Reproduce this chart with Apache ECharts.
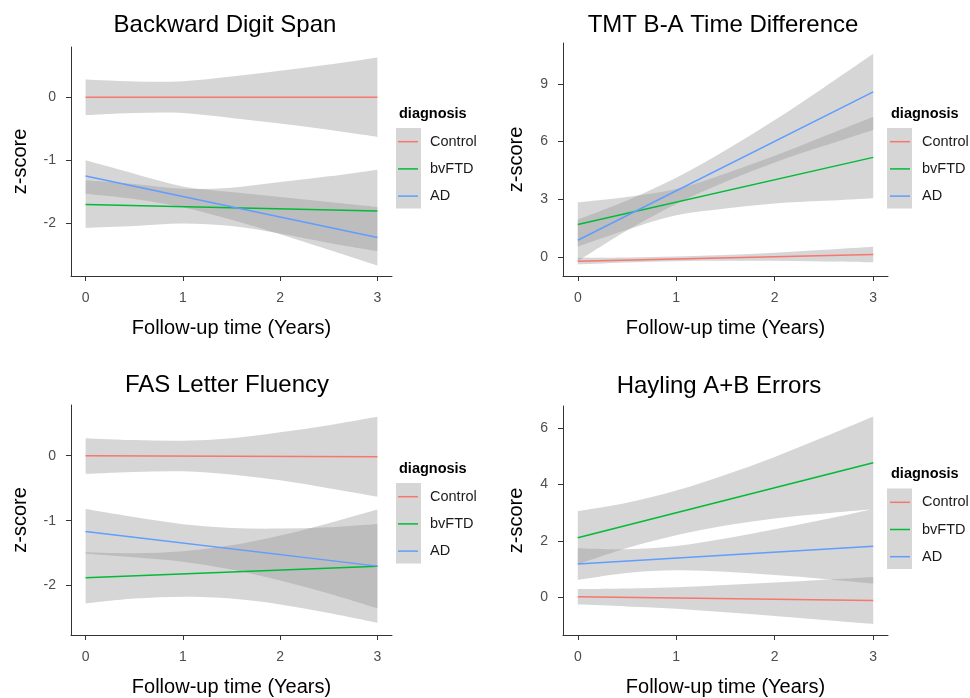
<!DOCTYPE html>
<html><head><meta charset="utf-8">
<script src="https://cdn.jsdelivr.net/npm/echarts@6/dist/echarts.min.js"></script>
<style>html,body{margin:0;padding:0;background:#fff}#c{width:970px;height:698px}</style>
</head><body><div id="c"></div>
<script>
// ---------- data ----------
const years = [0, 0.5, 1, 1.5, 2, 2.5, 3];
const lineYears = [0, 3];
const groups = ['Control', 'bvFTD', 'AD'];
const panelTitles = ['Backward Digit Span', 'TMT B-A Time Difference', 'FAS Letter Fluency', 'Hayling A+B Errors'];
const xTicks = [0, 1, 2, 3];
const bdsTicks = [-2, -1, 0];
const tmtTicks = [0, 3, 6, 9];
const fasTicks = [-2, -1, 0];
const hayTicks = [0, 2, 4, 6];

// Backward Digit Span
const bdsLineControl = [0.00, 0.00];
const bdsLineBvftd = [-1.707, -1.81];
const bdsLineAd = [-1.255, -2.234];
const bdsUpperControl = [0.28, 0.25, 0.255, 0.33, 0.42, 0.52, 0.633];
const bdsLowerControl = [-0.285, -0.25, -0.25, -0.33, -0.42, -0.52, -0.633];
const bdsUpperBvftd = [-1.32, -1.38, -1.456, -1.44, -1.35, -1.26, -1.153];
const bdsLowerBvftd = [-2.08, -2.05, -2.01, -2.05, -2.17, -2.32, -2.45];
const bdsUpperAd = [-1.005, -1.217, -1.42, -1.51, -1.59, -1.67, -1.75];
const bdsLowerAd = [-1.536, -1.62, -1.75, -1.95, -2.18, -2.43, -2.68];

// TMT B-A Time Difference
const tmtLineControl = [-0.22, 0.13];
const tmtLineBvftd = [1.69, 5.18];
const tmtLineAd = [0.87, 8.59];
const tmtUpperControl = [-0.05, -0.03, 0.02, 0.10, 0.22, 0.37, 0.53];
const tmtLowerControl = [-0.39, -0.29, -0.22, -0.20, -0.20, -0.23, -0.27];
const tmtUpperBvftd = [2.84, 3.12, 3.53, 4.34, 5.26, 6.28, 7.30];
const tmtLowerBvftd = [0.54, 1.42, 2.17, 2.52, 2.78, 2.92, 3.06];
const tmtUpperAd = [1.95, 2.94, 4.12, 5.55, 7.12, 8.82, 10.57];
const tmtLowerAd = [-0.21, 1.38, 2.76, 3.91, 4.92, 5.78, 6.61];

// FAS Letter Fluency
const fasLineControl = [0.00, -0.015];
const fasLineBvftd = [-1.88, -1.70];
const fasLineAd = [-1.166, -1.70];
const fasUpperControl = [0.27, 0.24, 0.23, 0.27, 0.36, 0.47, 0.60];
const fasLowerControl = [-0.28, -0.25, -0.24, -0.29, -0.38, -0.50, -0.63];
const fasUpperBvftd = [-1.485, -1.50, -1.47, -1.38, -1.23, -1.04, -0.83];
const fasLowerBvftd = [-2.275, -2.20, -2.17, -2.20, -2.29, -2.42, -2.57];
const fasUpperAd = [-0.822, -0.945, -1.054, -1.113, -1.122, -1.101, -1.05];
const fasLowerAd = [-1.51, -1.565, -1.634, -1.753, -1.922, -2.121, -2.35];

// Hayling A+B Errors
const hayLineControl = [0.02, -0.11];
const hayLineBvftd = [2.11, 4.76];
const hayLineAd = [1.18, 1.81];
const hayUpperControl = [0.295, 0.318, 0.357, 0.435, 0.523, 0.622, 0.72];
const hayLowerControl = [-0.255, -0.322, -0.403, -0.525, -0.657, -0.798, -0.94];
const hayUpperBvftd = [3.05, 3.35, 3.78, 4.34, 4.97, 5.67, 6.40];
const hayLowerBvftd = [1.17, 1.75, 2.20, 2.54, 2.79, 2.97, 3.12];
const hayUpperAd = [1.74, 1.705, 1.82, 2.085, 2.41, 2.755, 3.13];
const hayLowerAd = [0.62, 0.865, 0.96, 0.905, 0.79, 0.655, 0.49];

// ---------- layout / style ----------
const FONT = 'Liberation Sans, Arial, sans-serif';
const colors = ['#F8766D', '#00BA38', '#619CFF'];
const RIBBON_FILL = 'rgba(153,153,153,0.4)';
const panels = [
  {grid: {left: 71, top: 47, width: 321, height: 229}, ymin: -2.846, ymax: 0.799, ticks: bdsTicks, gapY: 41,
   lines: [bdsLineControl, bdsLineBvftd, bdsLineAd], up: [bdsUpperControl, bdsUpperBvftd, bdsUpperAd], lo: [bdsLowerControl, bdsLowerBvftd, bdsLowerAd],
   title: {x: 225, y: 13}, diag: {x: 399, y: 106}, leg: {x: 398, y: 134.2}, key: {x: 396, y: 128}},
  {grid: {left: 563, top: 43, width: 325, height: 233}, ymin: -0.99, ymax: 11.13, ticks: tmtTicks, gapY: 37,
   lines: [tmtLineControl, tmtLineBvftd, tmtLineAd], up: [tmtUpperControl, tmtUpperBvftd, tmtUpperAd], lo: [tmtLowerControl, tmtLowerBvftd, tmtLowerAd],
   title: {x: 723, y: 13}, diag: {x: 891, y: 106}, leg: {x: 890, y: 134.2}, key: {x: 887, y: 128}},
  {grid: {left: 71, top: 405, width: 321, height: 231}, ymin: -2.76, ymax: 0.78, ticks: fasTicks, gapY: 41,
   lines: [fasLineControl, fasLineBvftd, fasLineAd], up: [fasUpperControl, fasUpperBvftd, fasUpperAd], lo: [fasLowerControl, fasLowerBvftd, fasLowerAd],
   title: {x: 227, y: 373.5}, diag: {x: 399, y: 461}, leg: {x: 398, y: 489.2}, key: {x: 396, y: 483}},
  {grid: {left: 563, top: 406, width: 325, height: 230}, ymin: -1.33, ymax: 6.77, ticks: hayTicks, gapY: 37,
   lines: [hayLineControl, hayLineBvftd, hayLineAd], up: [hayUpperControl, hayUpperBvftd, hayUpperAd], lo: [hayLowerControl, hayLowerBvftd, hayLowerAd],
   title: {x: 719, y: 374}, diag: {x: 891, y: 466.7}, leg: {x: 890, y: 494.8}, key: {x: 887, y: 488.5}}
];

// Catmull-Rom -> cubic Bezier path segments through pixel points
function curveSegs(pts) {
  let s = '';
  for (let i = 0; i < pts.length - 1; i++) {
    const p0 = pts[i - 1] || pts[i], p1 = pts[i], p2 = pts[i + 1], p3 = pts[i + 2] || pts[i + 1];
    const c1 = [p1[0] + (p2[0] - p0[0]) / 6, p1[1] + (p2[1] - p0[1]) / 6];
    const c2 = [p2[0] - (p3[0] - p1[0]) / 6, p2[1] - (p3[1] - p1[1]) / 6];
    s += ' C' + c1[0] + ' ' + c1[1] + ' ' + c2[0] + ' ' + c2[1] + ' ' + p2[0] + ' ' + p2[1];
  }
  return s;
}

const grids = [], xAxes = [], yAxes = [], series = [], titles = [], legends = [], graphics = [];
const axisLineStyle = {color: '#333', width: 1};
panels.forEach((p, i) => {
  grids.push(Object.assign({containLabel: false}, p.grid));
  xAxes.push({
    type: 'value', gridIndex: i, min: -0.15, max: 3.15,
    name: 'Follow-up time (Years)', nameLocation: 'middle', nameGap: 42,
    nameTextStyle: {fontSize: 20, color: '#000', fontFamily: FONT},
    axisLine: {show: true, onZero: false, lineStyle: axisLineStyle},
    axisTick: {show: true, length: 5, lineStyle: axisLineStyle, customValues: xTicks},
    axisLabel: {customValues: xTicks, fontSize: 14, color: '#4d4d4d', margin: 15, fontFamily: FONT},
    splitLine: {show: false}
  });
  yAxes.push({
    type: 'value', gridIndex: i, min: p.ymin, max: p.ymax,
    name: 'z-score', nameLocation: 'middle', nameGap: p.gapY,
    nameTextStyle: {fontSize: 20, color: '#000', fontFamily: FONT},
    axisLine: {show: true, onZero: false, lineStyle: axisLineStyle},
    axisTick: {show: true, length: 5, lineStyle: axisLineStyle, customValues: p.ticks},
    axisLabel: {customValues: p.ticks, fontSize: 14, color: '#4d4d4d', margin: 15, fontFamily: FONT},
    splitLine: {show: false}
  });
  // confidence ribbons (one custom series per group)
  groups.forEach((g, k) => {
    const up = p.up[k], lo = p.lo[k];
    series.push({
      name: '_ribbon', type: 'custom', coordinateSystem: 'cartesian2d', xAxisIndex: i, yAxisIndex: i,
      data: years.map((x, j) => [x, lo[j], up[j]]),
      encode: {x: 0, y: [1, 2]}, silent: true, z: 1, animation: false,
      renderItem: function (params, api) {
        if (params.dataIndex !== 0) return null;
        const top = years.map((x, j) => api.coord([x, up[j]]));
        const bot = years.map((x, j) => api.coord([x, lo[j]])).reverse();
        const d = 'M' + top[0][0] + ' ' + top[0][1] + curveSegs(top) +
          ' L' + bot[0][0] + ' ' + bot[0][1] + curveSegs(bot) + ' Z';
        return {type: 'path', shape: {pathData: d}, style: {fill: RIBBON_FILL, stroke: null}};
      }
    });
  });
  // fitted lines
  groups.forEach((g, k) => {
    series.push({
      name: g, type: 'line', xAxisIndex: i, yAxisIndex: i,
      data: lineYears.map((x, j) => [x, p.lines[k][j]]), symbol: 'none',
      lineStyle: {color: colors[k], width: 1.5}, itemStyle: {color: colors[k]},
      z: 3, silent: true, animation: false
    });
  });
  titles.push({text: panelTitles[i], left: p.title.x, top: p.title.y, textAlign: 'center', padding: 0,
    textStyle: {fontSize: 24, fontWeight: 'normal', color: '#000', fontFamily: FONT}});
  titles.push({text: 'diagnosis', left: p.diag.x, top: p.diag.y, padding: 0,
    textStyle: {fontSize: 14.5, fontWeight: 'bold', color: '#000', fontFamily: FONT}});
  legends.push({
    data: groups, left: p.leg.x, top: p.leg.y, orient: 'vertical', padding: 0,
    icon: 'rect', itemWidth: 20, itemHeight: 1.5, itemGap: 12.2,
    selectedMode: false,
    textStyle: {fontSize: 14.5, color: '#1a1a1a', fontFamily: FONT, padding: [0, 0, 0, 7]}
  });
  graphics.push({type: 'rect', left: p.key.x, top: p.key.y, z: -1, silent: true,
    shape: {width: 25, height: 80.5}, style: {fill: RIBBON_FILL}});
});

const chart = echarts.init(document.getElementById('c'), null, {renderer: 'canvas'});
chart.setOption({
  animation: false,
  backgroundColor: '#fff',
  textStyle: {fontFamily: FONT},
  title: titles,
  legend: legends,
  grid: grids,
  xAxis: xAxes,
  yAxis: yAxes,
  graphic: graphics,
  series: series
});
</script></body></html>
